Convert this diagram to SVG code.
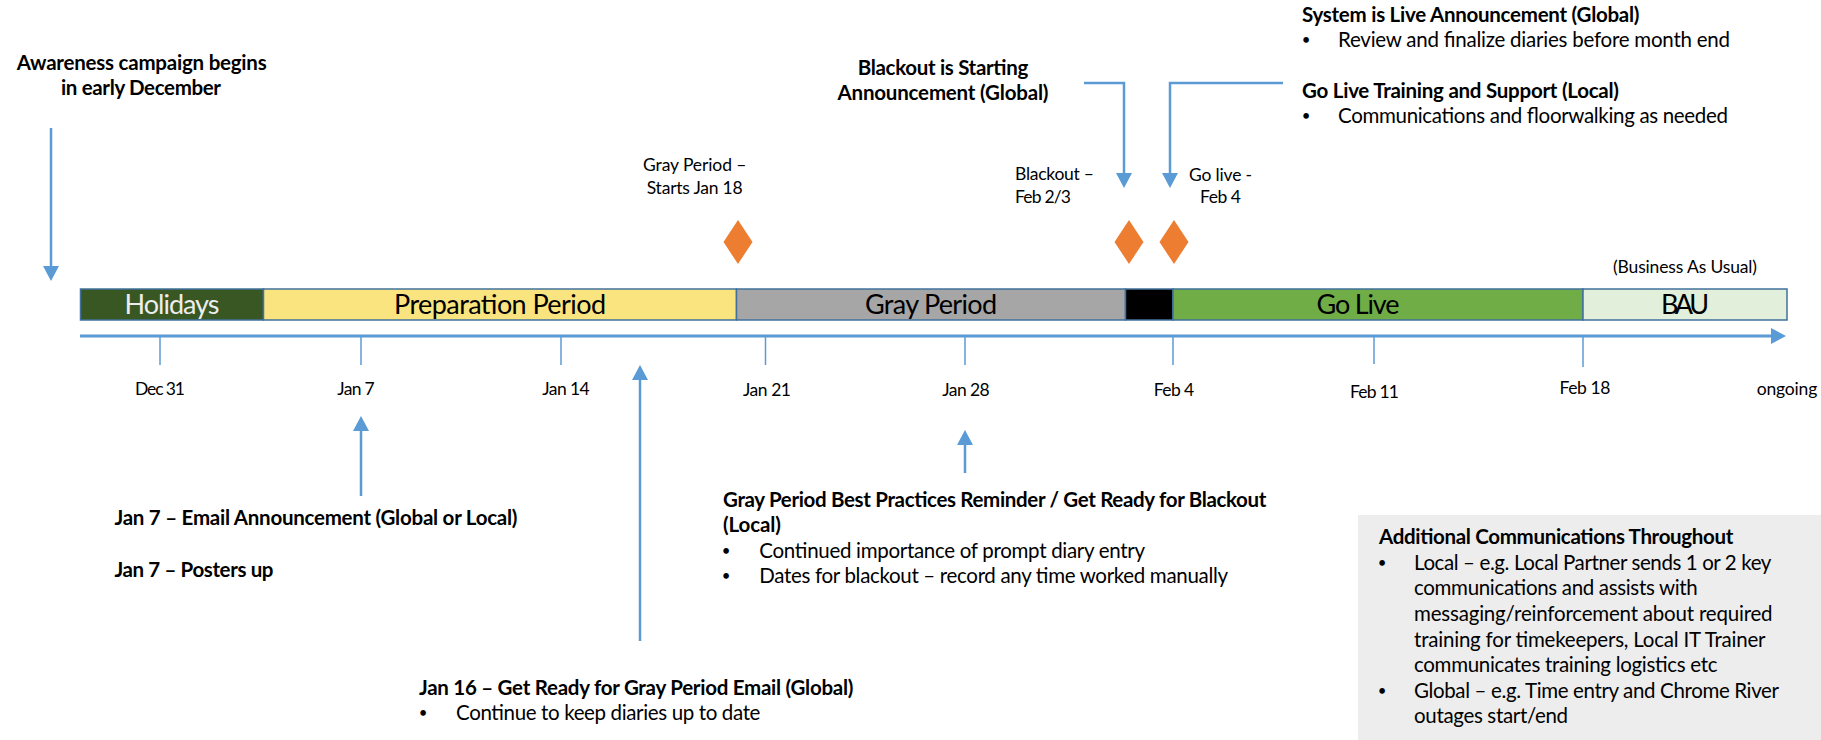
<svg xmlns="http://www.w3.org/2000/svg" width="1821" height="740" viewBox="0 0 1821 740">
<style>
text{font-family:Lato,"Liberation Sans",Arial,sans-serif;fill:#000}
.b{font-size:20.5px;font-weight:bold}
.r{font-size:20.5px}
.s{font-size:17.5px}
.bl{font-size:27px}
.m{text-anchor:middle}
.dot{font-size:15px;text-anchor:middle}
.seg{stroke:#41719C;stroke-width:1.5}
.conn{fill:none;stroke:#5B9BD5;stroke-width:2.5}
.axis{fill:none;stroke:#5B9BD5;stroke-width:3}
.tick{stroke:#5B9BD5;stroke-width:1.5}
.dia{fill:#ED7D31}
</style>
<defs>
<marker id="ah" markerUnits="userSpaceOnUse" markerWidth="16" markerHeight="16" refX="0" refY="8" orient="auto" viewBox="0 0 16 16">
<path d="M0,0 L15,8 L0,16 Z" fill="#5B9BD5"/>
</marker>
</defs>
<rect width="1821" height="740" fill="#FFFFFF"/>

<g id="timeline-bar">
<rect class="seg" x="80.5" y="289" width="183" height="31" fill="#385723"/>
<rect class="seg" x="263.5" y="289" width="473" height="31" fill="#FAE480"/>
<rect class="seg" x="736.5" y="289" width="389" height="31" fill="#A6A6A6"/>
<rect class="seg" x="1125.5" y="289" width="47.5" height="31" fill="#000000"/>
<rect class="seg" x="1173" y="289" width="410" height="31" fill="#70AD47"/>
<rect class="seg" x="1583" y="289" width="204" height="31" fill="#E2EFDA"/>
<text class="bl m" x="172" y="314" textLength="95" style="fill:#EDEDED">Holidays</text>
<text class="bl m" x="500" y="314" textLength="212">Preparation Period</text>
<text class="bl m" x="931" y="314" textLength="132">Gray Period</text>
<text class="bl m" x="1358" y="314" textLength="83">Go Live</text>
<text class="bl m" x="1685" y="314" textLength="48">BAU</text>
</g>

<g id="connectors">
<path class="axis" d="M80,336 H1771" marker-end="url(#ah)"/>
<path class="conn" d="M51,128 V266" marker-end="url(#ah)"/>
<path class="conn" d="M1084,83 H1124 V173" marker-end="url(#ah)"/>
<path class="conn" d="M1283,83 H1170 V173" marker-end="url(#ah)"/>
<path class="conn" d="M361,496 V431" marker-end="url(#ah)"/>
<path class="conn" d="M640,641 V380" marker-end="url(#ah)"/>
<path class="conn" d="M965,473 V445" marker-end="url(#ah)"/>
</g>

<g id="ticks">
<line class="tick" x1="160" y1="337" x2="160" y2="365"/>
<line class="tick" x1="361" y1="337" x2="361" y2="365"/>
<line class="tick" x1="561" y1="337" x2="561" y2="365"/>
<line class="tick" x1="765.5" y1="337" x2="765.5" y2="365"/>
<line class="tick" x1="965" y1="337" x2="965" y2="365"/>
<line class="tick" x1="1173" y1="337" x2="1173" y2="365"/>
<line class="tick" x1="1374" y1="337" x2="1374" y2="364"/>
<line class="tick" x1="1583" y1="337" x2="1583" y2="367"/>
<text class="s m" x="160" y="395" textLength="50">Dec 31</text>
<text class="s m" x="356" y="395" textLength="37.5">Jan 7</text>
<text class="s m" x="566" y="395" textLength="47.5">Jan 14</text>
<text class="s m" x="767" y="396" textLength="48">Jan 21</text>
<text class="s m" x="966" y="396" textLength="47.5">Jan 28</text>
<text class="s m" x="1174" y="396" textLength="40.5">Feb 4</text>
<text class="s m" x="1374.5" y="398" textLength="49">Feb 11</text>
<text class="s m" x="1585" y="394" textLength="51">Feb 18</text>
<text class="s m" x="1787" y="395" textLength="60.5">ongoing</text>
</g>

<g id="milestone-gray">
<polygon class="dia" points="738,220 752.5,242 738,264 723.5,242"/>
<text class="s m" x="694.7" y="171" textLength="103.5">Gray Period –</text>
<text class="s m" x="694.7" y="194" textLength="96">Starts Jan 18</text>
</g>

<g id="milestone-blackout">
<polygon class="dia" points="1129,220 1143.5,242 1129,264 1114.5,242"/>
<text class="s" x="1015" y="180" textLength="79">Blackout –</text>
<text class="s" x="1015" y="203" textLength="56">Feb 2/3</text>
</g>

<g id="milestone-golive">
<polygon class="dia" points="1174,220 1188.5,242 1174,264 1159.5,242"/>
<text class="s m" x="1220.5" y="181" textLength="63">Go live -</text>
<text class="s m" x="1220.5" y="203" textLength="41">Feb 4</text>
</g>

<g id="bau-note">
<text class="s m" x="1685" y="273" textLength="144">(Business As Usual)</text>
</g>

<g id="awareness">
<text class="b m" x="141.7" y="70" textLength="250">Awareness campaign begins</text>
<text class="b m" x="141" y="95" textLength="160">in early December</text>
</g>

<g id="blackout-announcement">
<text class="b m" x="943" y="75" textLength="170.5">Blackout is Starting</text>
<text class="b m" x="943" y="100" textLength="211">Announcement (Global)</text>
</g>

<g id="system-live">
<text class="b" x="1302" y="22" textLength="337.5">System is Live Announcement (Global)</text>
<text class="dot" x="1306" y="45">•</text>
<text class="r" x="1338" y="47" textLength="392">Review and finalize diaries before month end</text>
</g>

<g id="go-live-training">
<text class="b" x="1302" y="98" textLength="317">Go Live Training and Support (Local)</text>
<text class="dot" x="1306" y="121">•</text>
<text class="r" x="1338" y="123" textLength="390">Communications and floorwalking as needed</text>
</g>

<g id="jan7">
<text class="b" x="114.5" y="525" textLength="403">Jan 7 – Email Announcement (Global or Local)</text>
<text class="b" x="114.5" y="577" textLength="159">Jan 7 – Posters up</text>
</g>

<g id="jan16">
<text class="b" x="419" y="695" textLength="434.4">Jan 16 – Get Ready for Gray Period Email (Global)</text>
<text class="dot" x="423" y="718">•</text>
<text class="r" x="456" y="720" textLength="304.4">Continue to keep diaries up to date</text>
</g>

<g id="gray-reminder">
<text class="b" x="723" y="507" textLength="543.4">Gray Period Best Practices Reminder / Get Ready for Blackout</text>
<text class="b" x="723" y="532" textLength="58">(Local)</text>
<text class="dot" x="726" y="556">•</text>
<text class="r" x="759.3" y="558" textLength="385.7">Continued importance of prompt diary entry</text>
<text class="dot" x="726" y="581">•</text>
<text class="r" x="759.3" y="583" textLength="468.7">Dates for blackout – record any time worked manually</text>
</g>

<g id="additional-communications">
<rect x="1358" y="515" width="463" height="225" fill="#EDEDED"/>
<text class="b" x="1379" y="544" textLength="354.4">Additional Communications Throughout</text>
<text class="dot" x="1382" y="568">•</text>
<text class="r" x="1414" y="570" textLength="357.4">Local – e.g. Local Partner sends 1 or 2 key</text>
<text class="r" x="1414" y="595" textLength="283.8">communications and assists with</text>
<text class="r" x="1414" y="621" textLength="358.6">messaging/reinforcement about required</text>
<text class="r" x="1414" y="647" textLength="351.5">training for timekeepers, Local IT Trainer</text>
<text class="r" x="1414" y="672" textLength="303.6">communicates training logistics etc</text>
<text class="dot" x="1382" y="696">•</text>
<text class="r" x="1414" y="698" textLength="365">Global – e.g. Time entry and Chrome River</text>
<text class="r" x="1414" y="723" textLength="154">outages start/end</text>
</g>
</svg>
